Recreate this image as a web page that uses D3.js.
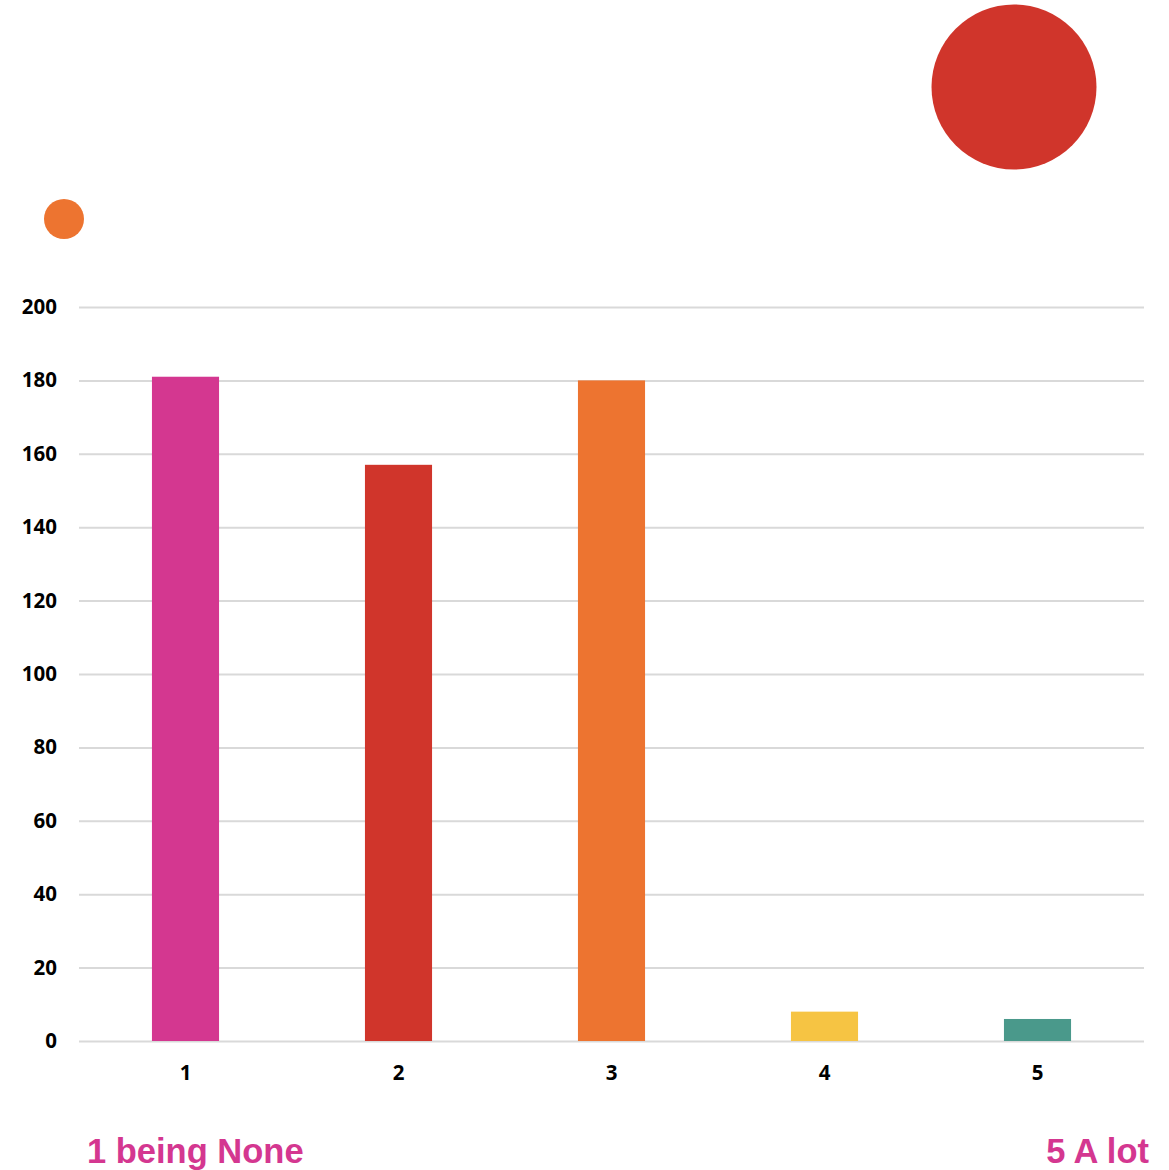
<!DOCTYPE html>
<html>
<head>
<meta charset="utf-8">
<script src="https://d3js.org/d3.v7.min.js"></script>
<style>
  html, body { margin: 0; padding: 0; background: #fff; }
  .tick text { font: bold 20.5px "Open Sans", "Liberation Sans", sans-serif; fill: #000; }
  .note { font: bold 34.5px "Liberation Sans", Arial, sans-serif; fill: #d43790; }
</style>
</head>
<body>
<script>
// data
var categories = ["1", "2", "3", "4", "5"];
var values = [181, 157, 180, 8, 6];
var barColors = ["#d43790", "#d0352b", "#ed7430", "#f6c443", "#4a998b"];
var yTicks = [0, 20, 40, 60, 80, 100, 120, 140, 160, 180, 200];

var W = 1169, H = 1170;
var margin = {top: 307, right: 25, bottom: 129, left: 79};

var svg = d3.select("body").append("svg")
    .attr("width", W).attr("height", H);

var x = d3.scaleBand()
    .domain(categories)
    .range([margin.left, W - margin.right])
    .paddingInner(0.685)
    .paddingOuter(0.3425);

var y = d3.scaleLinear()
    .domain([0, 200])
    .range([H - margin.bottom, margin.top]);

// gridlines + y labels
var yAxis = svg.append("g")
    .attr("transform", "translate(" + margin.left + ",0)")
    .call(d3.axisLeft(y).tickValues(yTicks).tickSize(-(W - margin.left - margin.right)).tickPadding(22));
yAxis.select(".domain").remove();
yAxis.selectAll(".tick line").attr("stroke", "#d9d9d9").attr("stroke-width", 2);

// bars
svg.selectAll("rect.bar")
    .data(values)
    .enter().append("rect")
    .attr("class", "bar")
    .attr("x", function(d, i) { return x(categories[i]); })
    .attr("width", x.bandwidth())
    .attr("y", function(d) { return y(d); })
    .attr("height", function(d) { return y(0) - y(d); })
    .attr("fill", function(d, i) { return barColors[i]; });

// x axis labels
var xAxis = svg.append("g")
    .attr("transform", "translate(0," + y(0) + ")")
    .call(d3.axisBottom(x).tickSize(0).tickPadding(24));
xAxis.select(".domain").remove();

// decorative dots
svg.append("circle").attr("cx", 64).attr("cy", 219).attr("r", 20).attr("fill", "#ed7430");
svg.append("circle").attr("cx", 1014).attr("cy", 87).attr("r", 82.5).attr("fill", "#d0352b");

// scale notes
svg.append("text").attr("class", "note").attr("x", 87).attr("y", 1163).text("1 being None");
svg.append("text").attr("class", "note").attr("x", 1149).attr("y", 1163)
    .attr("text-anchor", "end").text("5 A lot");
</script>
</body>
</html>
